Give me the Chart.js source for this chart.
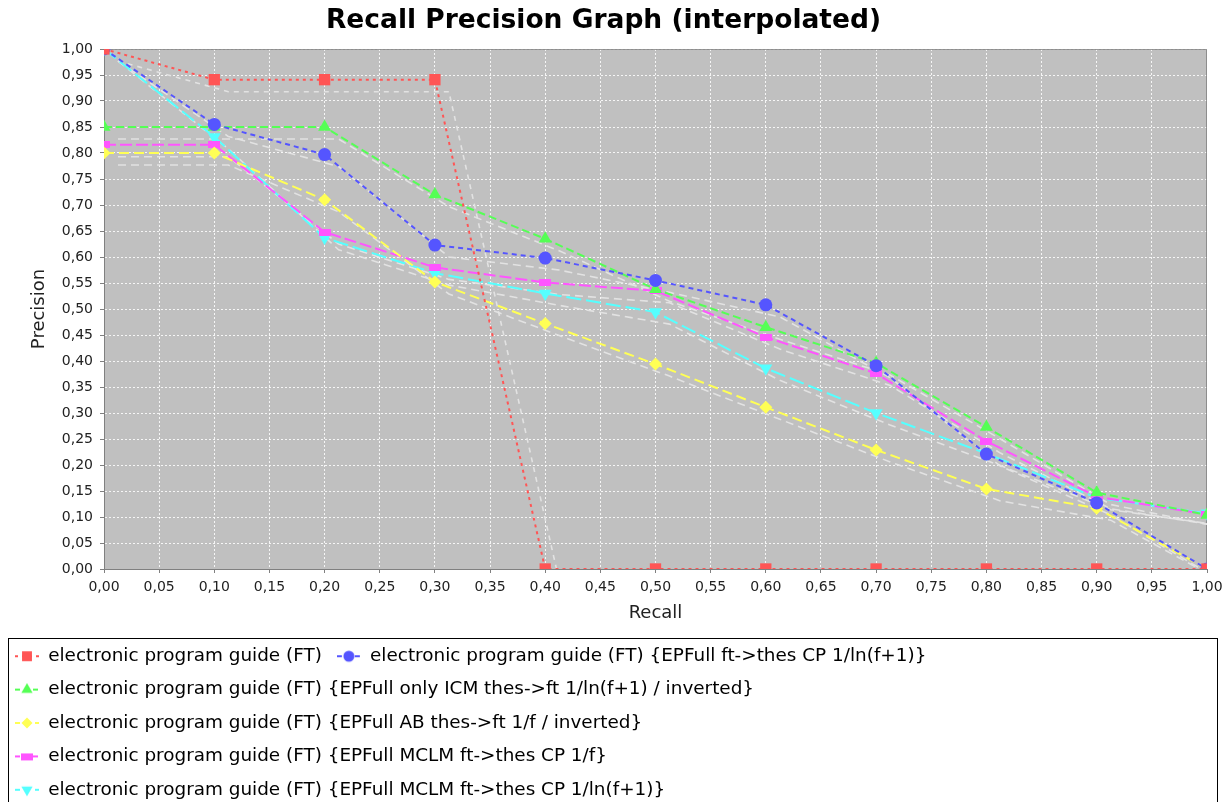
<!DOCTYPE html>
<html>
<head>
<meta charset="utf-8">
<script src="https://cdn.jsdelivr.net/npm/chart.js@4.4.0/dist/chart.umd.min.js"></script>
<style>
html,body{margin:0;padding:0;background:#fff;overflow:hidden;width:1229px;height:802px}
#wrap{width:1229px;height:809px}
canvas{display:block}
</style>
</head>
<body>
<div id="wrap"><canvas id="c" width="1229" height="809"></canvas></div>
<script>
// ---------- data ----------
const recall = [0.0, 0.1, 0.2, 0.3, 0.4, 0.5, 0.6, 0.7, 0.8, 0.9, 1.0];

const seriesLabels = [
  'electronic program guide (FT)',
  'electronic program guide (FT) {EPFull ft->thes CP 1/ln(f+1)}',
  'electronic program guide (FT) {EPFull only ICM thes->ft 1/ln(f+1) / inverted}',
  'electronic program guide (FT) {EPFull AB thes->ft 1/f / inverted}',
  'electronic program guide (FT) {EPFull MCLM ft->thes CP 1/f}',
  'electronic program guide (FT) {EPFull MCLM ft->thes CP 1/ln(f+1)}'
];

const precFT       = [1.000, 0.941, 0.941, 0.941, 0.000, 0.000, 0.000, 0.000, 0.000, 0.000, 0.000];
const precCPln     = [1.000, 0.855, 0.797, 0.623, 0.598, 0.555, 0.508, 0.391, 0.221, 0.127, 0.000];
const precICMln    = [0.850, 0.850, 0.850, 0.720, 0.635, 0.538, 0.465, 0.396, 0.273, 0.147, 0.104];
const precABf      = [0.800, 0.800, 0.710, 0.552, 0.472, 0.394, 0.311, 0.229, 0.154, 0.117, 0.000];
const precMCLMf    = [0.816, 0.816, 0.648, 0.580, 0.551, 0.535, 0.446, 0.376, 0.246, 0.139, 0.105];
const precMCLMln   = [1.000, 0.831, 0.637, 0.569, 0.530, 0.494, 0.386, 0.300, 0.222, 0.137, 0.107];

const axisTickValues = [0.00, 0.05, 0.10, 0.15, 0.20, 0.25, 0.30, 0.35, 0.40, 0.45, 0.50,
                        0.55, 0.60, 0.65, 0.70, 0.75, 0.80, 0.85, 0.90, 0.95, 1.00];
const axisTickLabels = ['0,00','0,05','0,10','0,15','0,20','0,25','0,30','0,35','0,40','0,45','0,50',
                        '0,55','0,60','0,65','0,70','0,75','0,80','0,85','0,90','0,95','1,00'];

// ---------- styles ----------
const seriesValues = [precFT, precCPln, precICMln, precABf, precMCLMf, precMCLMln];
const colors = ['#ff5555', '#5555ff', '#55ff55', '#ffff55', '#ff55ff', '#55ffff'];
const dashes = [[3, 4], [5, 4], [8, 4], [10, 5], [12, 4], [15, 5]];
const FONT = "'DejaVu Sans', sans-serif";
const SHADOW_DX = 14, SHADOW_DY = 12;

function hRectImage(color) {
  const c = document.createElement('canvas');
  c.width = 12; c.height = 7;
  const g = c.getContext('2d');
  g.fillStyle = color; g.fillRect(0, 0, 12, 7);
  return c;
}
const pointStyles = ['rect', 'circle', 'triangle', 'rectRot', hRectImage(colors[4]), 'triangle'];
const pointRadii = [8, 6.5, 7.5, 6.5, 6, 7.5];
const pointRotations = [0, 0, 0, 0, 0, 180];

function legendIcon(i) {
  const c = document.createElement('canvas');
  c.width = 24; c.height = 14;
  const g = c.getContext('2d');
  g.strokeStyle = colors[i]; g.lineWidth = 2; g.setLineDash(dashes[i].map(v => Math.min(v, 5)));
  g.beginPath(); g.moveTo(0, 7); g.lineTo(24, 7); g.stroke();
  g.setLineDash([]);
  g.fillStyle = colors[i];
  const ps = pointStyles[i];
  if (typeof ps === 'object') {
    g.drawImage(ps, 12 - ps.width / 2, 7 - ps.height / 2);
  } else {
    Chart.helpers.drawPoint(g, {pointStyle: ps, radius: pointRadii[i] - 1, rotation: pointRotations[i], borderWidth: 0}, 12, 7);
  }
  return c;
}

const mainSets = seriesValues.map((vals, i) => ({
  label: seriesLabels[i],
  data: recall.map((r, k) => ({x: r, y: vals[k]})),
  borderColor: colors[i],
  backgroundColor: colors[i],
  borderWidth: 2,
  borderDash: dashes[i],
  pointStyle: pointStyles[i],
  pointRadius: pointRadii[i],
  pointRotation: pointRotations[i],
  pointBackgroundColor: colors[i],
  pointBorderColor: colors[i],
  pointBorderWidth: 0,
  tension: 0,
  clip: 0,
  order: i
}));

const shadowSets = seriesValues.map((vals, i) => ({
  label: '',
  isShadow: true,
  data: recall.map((r, k) => ({x: r, y: vals[k]})),
  borderColor: 'rgba(228,228,228,0.95)',
  borderWidth: 1.6,
  borderDash: i === 0 ? [5, 5] : [8, 5],
  pointRadius: 0,
  tension: 0,
  clip: false,
  order: 20 + i
}));

const legendIcons = seriesValues.map((v, i) => legendIcon(i));

const bgPlugin = {
  id: 'plotBg',
  beforeDraw(chart) {
    const {ctx, chartArea: a} = chart;
    ctx.save();
    ctx.fillStyle = '#ffffff';
    ctx.fillRect(0, 0, chart.width, chart.height);
    ctx.fillStyle = '#c0c0c0';
    ctx.fillRect(a.left, a.top, a.right - a.left, a.bottom - a.top);
    ctx.restore();
  },
  beforeDatasetsDraw(chart) {
    const {ctx, chartArea: a} = chart;
    ctx.save();
    ctx.strokeStyle = 'rgba(128,128,128,0.8)';
    ctx.lineWidth = 1;
    ctx.strokeRect(a.left + 0.5, a.top + 0.5, a.right - a.left - 1, a.bottom - a.top);
    ctx.restore();
  }
};

const shadowPlugin = {
  id: 'shadowLines',
  beforeDatasetDraw(chart, args) {
    const ds = chart.data.datasets[args.index];
    if (!ds.isShadow) return;
    const {ctx, chartArea: a} = chart;
    ctx.save();
    ctx.beginPath();
    ctx.rect(a.left, a.top, a.right - a.left, a.bottom - a.top);
    ctx.clip();
    ctx.translate(SHADOW_DX, SHADOW_DY);
  },
  afterDatasetDraw(chart, args) {
    if (chart.data.datasets[args.index].isShadow) chart.ctx.restore();
  }
};

const legendFrame = {
  id: 'legendFrame',
  afterDraw(chart) {
    const l = chart.legend;
    const ctx = chart.ctx;
    ctx.save();
    ctx.strokeStyle = '#000';
    ctx.lineWidth = 1;
    ctx.strokeRect(8.5, Math.round(l.top) + 6.5, 1209, 300);
    ctx.restore();
  }
};

const axisCommon = (titleText, titlePadding, tickPad) => ({
  type: 'linear',
  min: 0,
  max: 1,
  afterBuildTicks: s => { s.ticks = axisTickValues.map(v => ({value: v})); },
  ticks: {
    autoSkip: false, maxRotation: 0, minRotation: 0, padding: tickPad,
    color: '#222', font: {family: FONT, size: 14},
    callback: (v, i) => axisTickLabels[i]
  },
  grid: {color: 'rgba(255,255,255,0.85)', lineWidth: 1, tickLength: 4, tickColor: '#808080', drawTicks: true},
  border: {display: true, color: '#808080', width: 1, dash: [2, 2]},
  title: {display: true, text: titleText, color: '#222', font: {family: FONT, size: 18, lineHeight: 1.2}, padding: titlePadding}
});

const xAxis = axisCommon('Recall', {top: 0, bottom: 8}, 6);
xAxis.afterFit = s => { s.height = 63; };
const yAxis = axisCommon('Precision', {top: 29, bottom: 0}, 7);
yAxis.afterFit = s => { s.width = 104; };

new Chart(document.getElementById('c'), {
  type: 'line',
  data: {datasets: mainSets.concat(shadowSets)},
  options: {
    responsive: false,
    animation: false,
    devicePixelRatio: 1,
    layout: {padding: {left: 0, right: 22, top: 0, bottom: 0}},
    plugins: {
      title: {
        display: true, text: 'Recall Precision Graph (interpolated)', color: '#000',
        font: {family: FONT, size: 26.5, weight: 'bold', lineHeight: 1.2},
        padding: {top: 5, bottom: 12.2}
      },
      legend: {
        position: 'bottom',
        align: 'start',
        labels: {
          usePointStyle: true,
          pointStyleWidth: 24,
          padding: 15,
          color: '#000',
          font: {family: FONT, size: 18.4},
          filter: (item, data) => !data.datasets[item.datasetIndex].isShadow,
          generateLabels(chart) {
            const items = Chart.defaults.plugins.legend.labels.generateLabels(chart);
            return items.map(it => {
              if (!chart.data.datasets[it.datasetIndex].isShadow) {
                it.pointStyle = legendIcons[it.datasetIndex];
                it.rotation = 0;
              }
              it.fontColor = '#000';
              return it;
            });
          }
        }
      },
      tooltip: {enabled: false}
    },
    scales: {x: xAxis, y: yAxis}
  },
  plugins: [bgPlugin, shadowPlugin, legendFrame]
});
</script>
</body>
</html>
